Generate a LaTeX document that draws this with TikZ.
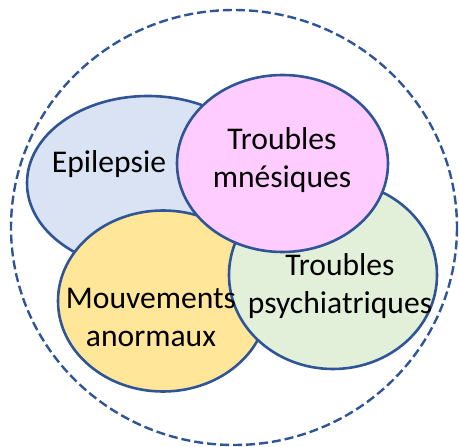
\documentclass[tikz,border=0pt]{standalone}
\usepackage{fontspec}
\setmainfont{Carlito}
\begin{document}
\begin{tikzpicture}[x=1pt, y=-1pt,
  blob/.style = {draw = bord, line width = 2.6pt},
  label/.style = {align = center, inner sep = 0pt, font = \fontsize{31.6pt}{38pt}\selectfont}]
\definecolor{bord}{RGB}{47,85,151}
\definecolor{epicol}{RGB}{218,227,243}
\definecolor{mnecol}{RGB}{255,204,255}
\definecolor{moucol}{RGB}{255,230,153}
\definecolor{psycol}{RGB}{226,240,217}
\useasboundingbox (0,0) rectangle (459,447);
\draw [color = bord, line width = 2.4pt, dash pattern = on 9pt off 4pt] (234,227.5) ellipse [x radius = 223, y radius = 217.5];
% the four sets, back to front
\draw [blob, fill = epicol] (148,183) ellipse [x radius = 121, y radius = 87];
\draw [blob, fill = moucol] (163,301) ellipse [x radius = 105, y radius = 90.5];
\draw [blob, fill = psycol] (333,275) ellipse [x radius = 104, y radius = 94];
\draw [blob, fill = mnecol] (282.5,163.5) ellipse [x radius = 105.5, y radius = 88.5];
% labels
\node [label] (epilepsie) at (109,164) {Epilepsie};
\node [label] (mnesiques) at (282,160.5) {Troubles\\mnésiques};
\node [label] (mouvements) at (151,317) {Mouvements\\anormaux};
\node [label] (psychiatriques) at (340,286) {Troubles\\psychiatriques};
\end{tikzpicture}
\end{document}
